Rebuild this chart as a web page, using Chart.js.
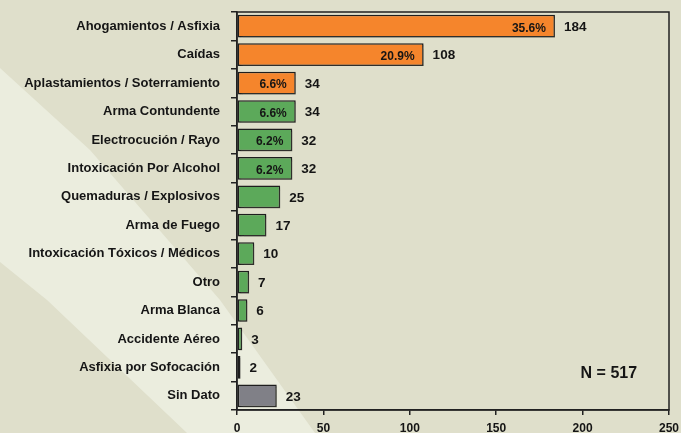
<!DOCTYPE html>
<html>
<head>
<meta charset="utf-8">
<script src="https://cdn.jsdelivr.net/npm/chart.js@4"></script>
<style>
html,body{margin:0;padding:0;background:#dfdfcb;}
canvas{display:block;}
</style>
</head>
<body>
<canvas id="c" width="681" height="433"></canvas>
<script>
const categories = ["Ahogamientos / Asfixia","Caídas","Aplastamientos / Soterramiento","Arma Contundente","Electrocución / Rayo","Intoxicación Por Alcohol","Quemaduras / Explosivos","Arma de Fuego","Intoxicación Tóxicos / Médicos","Otro","Arma Blanca","Accidente Aéreo","Asfixia por Sofocación","Sin Dato"];
const counts = [184,108,34,34,32,32,25,17,10,7,6,3,2,23];
const percents = ["35.6%","20.9%","6.6%","6.6%","6.2%","6.2%",null,null,null,null,null,null,null,null];
const groups = ["o","o","o","g","g","g","g","g","g","g","g","g","g","s"];
const xTicks = [0,50,100,150,200,250];
const totalLabel = "N = 517";

const groupColors = {o:"#f5852c", g:"#5ca95a", s:"#808087"};
const FONT = "'Liberation Sans', Arial, sans-serif";
const TXT = "#151515";

const bgPlugin = {
  id:"bg",
  beforeDraw(chart){
    const ctx = chart.ctx;
    ctx.save();
    ctx.fillStyle = "#dfdfcb";
    ctx.fillRect(0,0,chart.width,chart.height);
    ctx.fillStyle = "#ebedde";
    ctx.beginPath();
    ctx.moveTo(0,68);
    ctx.lineTo(90,150);
    ctx.lineTo(220,300);
    ctx.lineTo(315,433);
    ctx.lineTo(187,433);
    ctx.lineTo(47,300);
    ctx.lineTo(0,262);
    ctx.closePath();
    ctx.fill();
    ctx.restore();
  }
};

const shadowPlugin = {
  id:"shadow",
  beforeDatasetDraw(chart){
    const ctx = chart.ctx;
    ctx.save();
    ctx.shadowColor = "rgba(80,80,70,0.35)";
    ctx.shadowOffsetX = 2;
    ctx.shadowOffsetY = 2;
    ctx.shadowBlur = 1;
  },
  afterDatasetDraw(chart){
    chart.ctx.restore();
  }
};

const labelPlugin = {
  id:"labels",
  afterDatasetsDraw(chart){
    const ctx = chart.ctx;
    const meta = chart.getDatasetMeta(0);
    ctx.save();
    ctx.fillStyle = TXT;
    ctx.textBaseline = "middle";
    meta.data.forEach((bar,i)=>{
      ctx.font = "bold 13.5px " + FONT;
      ctx.textAlign = "left";
      ctx.fillText(String(counts[i]), bar.x + 9, bar.y + 1);
      if (percents[i]) {
        ctx.font = "bold 12px " + FONT;
        ctx.textAlign = "right";
        ctx.fillText(percents[i], bar.x - 9, bar.y + 2);
      }
    });
    const a = chart.chartArea;
    ctx.strokeStyle = "#222";
    ctx.lineWidth = 1.5;
    ctx.strokeRect(a.left, a.top, a.right - a.left, a.bottom - a.top);
    const xs = chart.scales.x, ys = chart.scales.y;
    ctx.font = "bold 16px " + FONT;
    ctx.textAlign = "left";
    ctx.fillText(totalLabel, xs.getPixelForValue(200) - 2, ys.getPixelForValue(12) + 6);
    ctx.restore();
  }
};

new Chart(document.getElementById("c"), {
  type:"bar",
  data:{
    labels: categories,
    datasets:[{
      data: counts,
      backgroundColor: groups.map(g=>groupColors[g]),
      borderColor:"#1e1e1e",
      borderWidth:1.5,
      borderSkipped:false,
      categoryPercentage:1,
      barPercentage:0.8
    }]
  },
  options:{
    indexAxis:"y",
    responsive:false,
    animation:false,
    events:[],
    layout:{padding:{top:12,right:12,left:0,bottom:0}},
    plugins:{legend:{display:false},tooltip:{enabled:false},title:{display:false}},
    scales:{
      x:{
        min:0,max:250,
        afterBuildTicks(s){ s.ticks = xTicks.map(v=>({value:v})); },
        afterFit(s){ s.height = 23; s.paddingRight = 0; s.paddingLeft = 0; },
        grid:{drawOnChartArea:false,drawTicks:true,tickLength:5,color:"#222",lineWidth:1.5},
        border:{display:true,color:"#222",width:1.5},
        ticks:{font:{family:FONT,size:12,weight:"bold"},color:TXT,padding:6,maxRotation:0}
      },
      y:{
        afterFit(s){ s.width = 237; s.paddingTop = 0; s.paddingBottom = 0; },
        grid:{drawOnChartArea:false,drawTicks:true,tickLength:6,color:"#222",lineWidth:1.5},
        border:{display:true,color:"#222",width:1.5},
        ticks:{font:{family:FONT,size:13,weight:"bold"},color:TXT,padding:11,autoSkip:false}
      }
    }
  },
  plugins:[bgPlugin,shadowPlugin,labelPlugin]
});
</script>
</body>
</html>
